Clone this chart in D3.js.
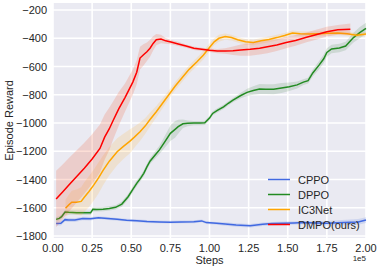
<!DOCTYPE html>
<html>
<head>
<style>
  body { margin: 0; background: #fff; }
  text { font-family: "Liberation Sans", Arial, sans-serif; fill: #262626; }
</style>
</head>
<body>
<div id="chart"></div>
<script src="https://d3js.org/d3.v7.min.js"></script>
<script>
// steps are in units of 1e5
var cppoX = [0.02,0.05,0.077,0.10,0.14,0.19,0.24,0.29,0.35,0.41,0.47,0.535,0.60,0.68,0.75,0.82,0.90,0.95,0.98,1.045,1.10,1.17,1.26,1.34,1.40,1.47,1.54,1.60,1.68,1.75,1.82,1.90,1.95,2.00];
var cppoY = [-1712,-1710,-1684,-1686,-1687,-1676,-1678,-1670,-1676,-1682,-1688,-1692,-1697,-1700,-1702,-1700,-1699,-1693,-1705,-1710,-1715,-1722,-1727,-1717,-1712,-1710,-1708,-1705,-1707,-1710,-1706,-1703,-1700,-1687];
var cppoSd = [15,15,14,14,13,12,12,10,10,10,10,10,10,10,10,10,10,10,10,10,12,12,12,12,12,12,12,12,14,16,18,20,20,20];

var dppoX = [0.02,0.04,0.055,0.077,0.10,0.15,0.20,0.24,0.255,0.28,0.32,0.36,0.40,0.44,0.48,0.51,0.535,0.56,0.58,0.60,0.62,0.65,0.68,0.71,0.75,0.78,0.80,0.83,0.86,0.90,0.94,0.97,1.00,1.02,1.05,1.09,1.12,1.15,1.20,1.24,1.28,1.32,1.36,1.41,1.46,1.51,1.56,1.60,1.63,1.66,1.70,1.73,1.75,1.78,1.83,1.87,1.92,1.96,2.00];
var dppoY = [-1682,-1675,-1663,-1630,-1632,-1635,-1636,-1636,-1611,-1612,-1610,-1605,-1597,-1574,-1522,-1470,-1427,-1390,-1356,-1310,-1270,-1230,-1190,-1140,-1073,-1045,-1026,-1005,-1002,-1000,-1000,-998,-965,-932,-910,-885,-860,-837,-805,-783,-770,-759,-760,-761,-752,-743,-730,-710,-700,-645,-590,-545,-500,-475,-468,-455,-395,-360,-330];
var dppoSd = [15,15,15,15,15,15,15,15,15,15,15,15,15,18,20,20,20,20,20,20,20,25,30,40,55,60,50,30,20,15,15,15,15,15,15,15,15,15,20,25,30,35,35,35,35,30,25,20,20,25,30,30,30,30,30,30,35,40,40];

var ic3X = [0.08,0.10,0.12,0.15,0.18,0.20,0.23,0.26,0.29,0.32,0.36,0.41,0.45,0.49,0.52,0.556,0.59,0.62,0.66,0.70,0.74,0.78,0.83,0.87,0.92,0.96,1.00,1.03,1.06,1.10,1.14,1.18,1.23,1.28,1.33,1.38,1.43,1.48,1.53,1.58,1.64,1.70,1.76,1.82,1.88,1.94,2.00];
var ic3Y = [-1604,-1580,-1560,-1560,-1555,-1525,-1485,-1440,-1390,-1335,-1270,-1203,-1165,-1130,-1100,-1062,-1020,-975,-920,-860,-800,-740,-672,-620,-566,-520,-465,-425,-400,-388,-395,-410,-425,-430,-418,-408,-395,-380,-362,-368,-370,-368,-365,-363,-368,-378,-370];
var ic3Sd = [60,70,80,90,100,105,110,110,110,105,100,95,90,85,75,65,55,50,40,35,30,30,30,30,30,30,28,25,25,22,20,20,20,20,20,20,20,18,18,18,18,18,15,15,15,15,15];

var dmpoX = [0.02,0.06,0.10,0.15,0.20,0.25,0.30,0.33,0.36,0.385,0.42,0.46,0.51,0.535,0.556,0.58,0.60,0.62,0.64,0.66,0.69,0.72,0.76,0.80,0.85,0.90,0.95,1.00,1.05,1.10,1.15,1.20,1.26,1.32,1.37,1.43,1.49,1.55,1.62,1.68,1.75,1.82,1.90];
var dmpoY = [-1538,-1490,-1440,-1380,-1320,-1255,-1180,-1100,-1040,-980,-900,-820,-710,-640,-540,-515,-495,-470,-436,-410,-405,-418,-428,-440,-455,-470,-478,-485,-490,-490,-488,-483,-478,-470,-460,-448,-430,-415,-393,-375,-353,-340,-335];
var dmpoSd = [200,195,190,185,180,175,170,160,150,135,120,100,90,85,80,75,65,60,50,40,30,20,15,15,12,12,12,12,15,20,30,40,45,45,45,42,40,38,35,35,35,35,40];

var seriesNames = ["CPPO", "DPPO", "IC3Net", "DMPO(ours)"];
var seriesColors = ["#4169E1", "#228B22", "#FFA500", "#FF0000"];
var bandColors = ["#4169E1", "#3A7A3A", "#FFB020", "#F05A32"];
var xTicks = [0, 0.25, 0.5, 0.75, 1.0, 1.25, 1.5, 1.75, 2.0];
var yTicks = [-1800, -1600, -1400, -1200, -1000, -800, -600, -400, -200];

var W = 382, H = 272;
var pLeft = 53, pRight = 366, pTop = 3, pBottom = 238;

var svg = d3.select("#chart").append("svg")
  .attr("width", W).attr("height", H);

var x = d3.scaleLinear().domain([0, 2.0]).range([pLeft, pRight]);
var y = d3.scaleLinear().domain([-1814, -150]).range([pBottom, pTop]);

svg.append("rect")
  .attr("x", pLeft).attr("y", pTop)
  .attr("width", pRight - pLeft).attr("height", pBottom - pTop)
  .attr("fill", "#EAEAF2");

// grid
svg.append("g").selectAll("line").data(xTicks).enter().append("line")
  .attr("x1", function(d) { return x(d); }).attr("x2", function(d) { return x(d); })
  .attr("y1", pTop).attr("y2", pBottom)
  .attr("stroke", "#fff").attr("stroke-width", 1.6);
svg.append("g").selectAll("line").data(yTicks).enter().append("line")
  .attr("x1", pLeft).attr("x2", pRight)
  .attr("y1", function(d) { return y(d); }).attr("y2", function(d) { return y(d); })
  .attr("stroke", "#fff").attr("stroke-width", 1.6);

// tick labels
svg.append("g").selectAll("text").data(xTicks).enter().append("text")
  .attr("x", function(d) { return x(d); }).attr("y", 252)
  .attr("text-anchor", "middle").attr("font-size", "11px")
  .text(function(d) { return d.toFixed(2); });
svg.append("g").selectAll("text").data(yTicks).enter().append("text")
  .attr("x", 47).attr("y", function(d) { return y(d) + 4; })
  .attr("text-anchor", "end").attr("font-size", "11px")
  .text(function(d) { return "\u2212" + Math.abs(d); });

svg.append("text").attr("x", (pLeft + pRight) / 2).attr("y", 264)
  .attr("text-anchor", "middle").attr("font-size", "11px").text("Steps");
svg.append("text").attr("x", pRight).attr("y", 261)
  .attr("text-anchor", "end").attr("font-size", "8px").text("1e5");
svg.append("text")
  .attr("transform", "translate(13," + ((pTop + pBottom) / 2) + ") rotate(-90)")
  .attr("text-anchor", "middle").attr("font-size", "11px").text("Episode Reward");

var series = [
  {xs: cppoX, ys: cppoY, sd: cppoSd},
  {xs: dppoX, ys: dppoY, sd: dppoSd},
  {xs: ic3X, ys: ic3Y, sd: ic3Sd},
  {xs: dmpoX, ys: dmpoY, sd: dmpoSd}
];

var plot = svg.append("g");
series.forEach(function(s, i) {
  var pts = s.xs.map(function(v, j) { return {x: v, y: s.ys[j], sd: s.sd[j]}; });
  plot.append("path").datum(pts)
    .attr("fill", bandColors[i]).attr("fill-opacity", i == 3 ? 0.2 : 0.16)
    .attr("d", d3.area()
      .x(function(d) { return x(d.x); })
      .y0(function(d) { return y(d.y - d.sd); })
      .y1(function(d) { return y(d.y + d.sd); }));
  plot.append("path").datum(pts)
    .attr("fill", "none").attr("stroke", seriesColors[i]).attr("stroke-width", 1.5)
    .attr("d", d3.line()
      .x(function(d) { return x(d.x); })
      .y(function(d) { return y(d.y); }));
});

// legend
var legend = svg.append("g");
seriesNames.forEach(function(name, i) {
  var ly = 179.5 + i * 15;
  legend.append("line").attr("x1", 268).attr("x2", 290)
    .attr("y1", ly).attr("y2", ly)
    .attr("stroke", seriesColors[i]).attr("stroke-width", 1.5);
  legend.append("text").attr("x", 298).attr("y", ly + 4)
    .attr("font-size", "11px").text(name);
});
</script>
</body>
</html>
